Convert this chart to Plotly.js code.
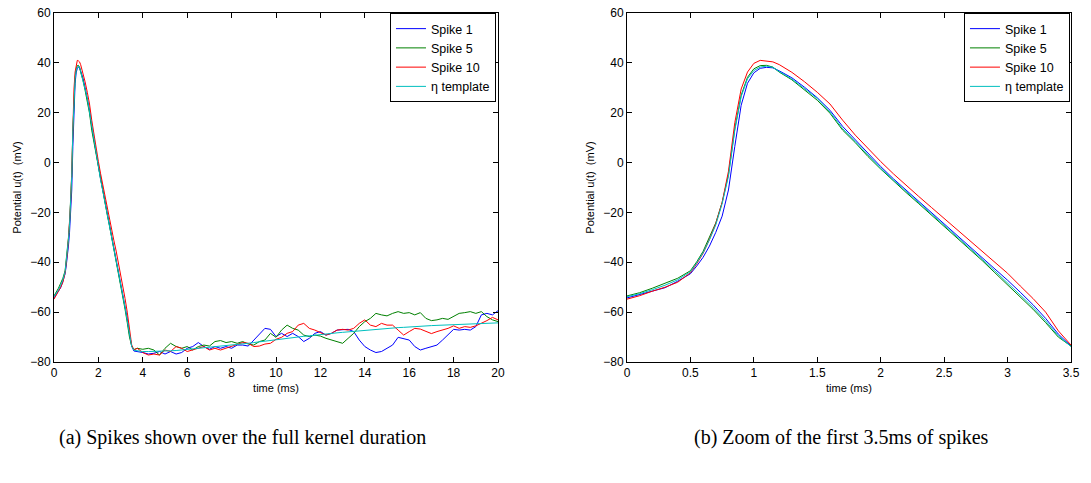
<!DOCTYPE html>
<html>
<head>
<meta charset="utf-8">
<script src="https://cdn.plot.ly/plotly-3.0.1.min.js"></script>
<style>html,body{margin:0;padding:0;background:#fff;}#chart{width:1091px;height:483px;}</style>
</head>
<body>
<div id="chart"></div>
<script>
// time axis (ms)
const t = [0,0.1,0.2,0.3,0.4,0.5,0.55,0.6,0.65,0.7,0.75,0.8,0.85,0.9,0.95,1.0,1.05,1.1,1.15,1.2,
  1.3,1.4,1.5,1.6,1.7,1.8,1.9,2.0,2.1,2.2,2.3,2.4,2.5,2.6,2.7,2.8,2.9,3.0,3.1,3.2,3.3,3.4,3.5,3.6,
  3.75,4.0,4.25,4.5,4.75,5.0,5.25,5.5,5.75,6.0,6.25,6.5,6.75,7.0,7.25,7.5,7.75,8.0,8.25,8.5,8.75,
  9.0,9.25,9.5,9.75,10.0,10.25,10.5,10.75,11.0,11.25,11.5,11.75,12.0,12.25,12.5,12.75,13.0,13.25,
  13.5,13.75,14.0,14.25,14.5,14.75,15.0,15.25,15.5,15.75,16.0,16.25,16.5,16.75,17.0,17.25,17.5,
  17.75,18.0,18.25,18.5,18.75,19.0,19.25,19.5,19.75,20.0];

const spike1 = [-54.3,-53.0,-51.6,-50.2,-47.6,-44.6,-41.5,-38.0,-33.5,-28.0,-21.5,-11.0,6.5,23.0,31.8,36.0,37.8,38.2,38.0,36.8,
  34.0,30.2,26.0,21.0,14.5,9.0,3.8,-1.6,-6.5,-11.0,-15.6,-20.0,-24.6,-29.0,-33.6,-38.0,-42.6,-47.2,-52.0,-57.0,-62.5,-68.8,-73.6,-75.6,
  -75.8,-76.2,-76.8,-76.5,-75.8,-76.8,-75.8,-76.8,-76.2,-74.5,-73.8,-72.2,-73.8,-74.9,-73.8,-74.5,-73.8,-74.5,-73.2,-73.2,-73.6,
  -71.2,-68.5,-66.5,-66.9,-69.8,-68.5,-69.8,-68.5,-69.8,-71.8,-70.5,-68.5,-67.8,-69.2,-68.5,-67.2,-67.2,-66.9,
  -67.8,-71.2,-73.8,-75.2,-76.2,-75.8,-74.5,-73.2,-70.1,-70.5,-71.2,-73.8,-75.2,-74.5,-73.8,-73.2,-71.2,
  -69.2,-66.9,-67.2,-66.9,-67.2,-65.8,-61.1,-60.5,-61.1,-59.4];

const spike5 = [-53.5,-52.2,-50.4,-48.4,-46.4,-43.4,-39.8,-35.6,-30.2,-24.2,-16.0,-4.8,13.5,27.0,34.2,37.6,38.9,39.0,38.3,36.3,
  33.2,29.0,25.0,19.8,13.0,8.0,2.4,-2.6,-7.4,-12.0,-16.5,-21.0,-25.4,-30.0,-34.6,-39.3,-44.2,-49.0,-54.0,-58.8,-64.2,-70.0,-73.6,-75.0,
  -74.5,-74.9,-74.5,-75.2,-77.2,-74.5,-72.5,-73.8,-74.5,-73.8,-75.2,-73.8,-73.2,-73.6,-71.8,-71.4,-72.2,-71.8,-72.5,-71.8,-72.8,
  -73.2,-71.8,-71.2,-68.5,-70.1,-67.2,-65.2,-66.5,-67.2,-69.2,-69.8,-69.2,-69.6,-70.5,-71.2,-71.8,-72.5,-70.5,
  -68.5,-65.8,-63.8,-62.5,-60.5,-61.1,-61.5,-60.5,-59.8,-60.5,-60.2,-61.1,-60.2,-62.5,-63.4,-63.1,-62.5,
  -62.9,-61.8,-60.5,-60.2,-59.8,-60.5,-59.8,-61.8,-63.1,-63.8];

const spike10 = [-54.8,-53.4,-51.6,-50.0,-48.0,-44.2,-40.6,-36.4,-30.8,-24.5,-16.0,-3.5,16.0,29.5,36.3,39.8,41.0,40.8,40.4,39.3,
  36.2,32.4,28.2,23.5,17.0,11.0,5.6,0.4,-4.5,-9.2,-13.6,-18.0,-22.4,-26.8,-31.4,-35.5,-40.0,-44.4,-49.5,-54.5,-60.0,-67.5,-73.2,-75.2,
  -74.5,-76.2,-77.2,-76.8,-77.2,-75.2,-75.8,-73.8,-74.5,-75.8,-75.2,-74.5,-73.8,-75.2,-74.5,-75.2,-74.5,-73.8,-73.2,-72.2,-72.5,
  -73.8,-73.6,-72.8,-72.5,-70.9,-70.1,-68.5,-67.8,-65.2,-64.5,-66.5,-67.2,-68.2,-69.2,-68.5,-67.2,-66.9,-67.2,
  -66.5,-64.5,-63.1,-65.2,-65.8,-64.5,-65.2,-65.2,-67.2,-69.2,-67.8,-66.5,-66.8,-67.6,-68.6,-67.8,-67.2,
  -66.5,-65.5,-66.5,-65.8,-66.1,-65.5,-64.5,-63.4,-62.1,-63.1];

const template = [-53.8,-52.6,-51.0,-49.2,-47.0,-43.8,-40.2,-36.2,-31.0,-25.0,-16.5,-5.5,13.0,26.5,33.6,36.9,38.3,38.7,38.2,36.5,
  33.5,29.5,25.7,20.3,13.6,8.4,3.0,-2.3,-7.0,-11.5,-16.0,-20.5,-25.0,-29.5,-34.2,-38.8,-43.5,-48.4,-53.2,-58.0,-63.5,-69.5,-73.8,-75.3,
  -75.6,-75.8,-75.8,-75.8,-75.7,-75.6,-75.5,-75.4,-75.2,-75.0,-74.8,-74.6,-74.4,-74.2,-74.0,-73.7,-73.5,-73.2,-73.0,-72.7,-72.5,
  -72.2,-71.9,-71.7,-71.4,-71.1,-70.8,-70.5,-70.3,-70.0,-69.7,-69.5,-69.2,-69.0,-68.8,-68.5,-68.3,-68.1,-67.9,
  -67.6,-67.4,-67.2,-67.0,-66.9,-66.7,-66.5,-66.4,-66.2,-66.1,-65.9,-65.8,-65.7,-65.5,-65.4,-65.3,-65.2,
  -65.1,-65.0,-64.9,-64.8,-64.7,-64.6,-64.5,-64.4,-64.4,-64.3];

const seriesNames = ['Spike 1','Spike 5','Spike 10','\u03b7 template'];
const seriesColors = ['#0000ff','#008000','#ff0000','#00bfbf'];
const seriesValues = [spike1, spike5, spike10, template];

const xTicksLeft = [0,2,4,6,8,10,12,14,16,18,20];
const xTicksRight = [0,0.5,1,1.5,2,2.5,3,3.5];
const yTicks = [-80,-60,-40,-20,0,20,40,60];
const captions = ['(a) Spikes shown over the full kernel duration','(b) Zoom of the first 3.5ms of spikes'];

const traces = [];
[['x','y','legend'],['x2','y2','legend2']].forEach(function(ax){
  seriesValues.forEach(function(v,i){
    traces.push({x:t, y:v, type:'scatter', mode:'lines', name:seriesNames[i],
      xaxis:ax[0], yaxis:ax[1], legend:ax[2],
      line:{color:seriesColors[i], width:1}, hoverinfo:'skip'});
  });
});

const baseAxis = {showline:true, linecolor:'#000', linewidth:1, mirror:'ticks', ticks:'inside',
  ticklen:5, tickcolor:'#000', tickwidth:1, showgrid:false, zeroline:false,
  tickfont:{size:12, color:'#000'}};
const xTitle = {text:'time (ms)', font:{size:11, color:'#000'}, standoff:4};
const yTitle = {text:'Potential u(t) \u00a0(mV)', font:{size:11, color:'#000'}, standoff:6};
const legendBase = {y:1, yanchor:'top', xanchor:'right', bgcolor:'#fff', bordercolor:'#000', borderwidth:1,
  font:{size:12.5, color:'#000'}, tracegroupgap:0, itemwidth:30};
const captionFont = {family:'"Liberation Serif", "Times New Roman", serif', size:20, color:'#000'};

const layout = {
  width:1091, height:483,
  margin:{l:54, r:20, t:13, b:121},
  paper_bgcolor:'#fff', plot_bgcolor:'#fff',
  font:{family:'"Liberation Sans", Arial, sans-serif', color:'#000'},
  xaxis:Object.assign({}, baseAxis, {domain:[0,0.4366], range:[0,20], tickvals:xTicksLeft, ticktext:xTicksLeft.map(String), anchor:'y', title:xTitle}),
  yaxis:Object.assign({}, baseAxis, {domain:[0,1], range:[-80,60], tickvals:yTicks, anchor:'x', title:yTitle}),
  xaxis2:Object.assign({}, baseAxis, {domain:[0.5634,1], range:[0,3.5], tickvals:xTicksRight, ticktext:xTicksRight.map(String), anchor:'y2', title:xTitle}),
  yaxis2:Object.assign({}, baseAxis, {domain:[0,1], range:[-80,60], tickvals:yTicks, anchor:'x2', title:yTitle}),
  legend:Object.assign({}, legendBase, {x:0.4346}),
  legend2:Object.assign({}, legendBase, {x:0.999}),
  showlegend:true,
  annotations:[
    {text:captions[0], xref:'paper', yref:'paper', x:0.1858, y:-0.215, xanchor:'center', yanchor:'middle', showarrow:false, font:captionFont},
    {text:captions[1], xref:'paper', yref:'paper', x:0.7748, y:-0.215, xanchor:'center', yanchor:'middle', showarrow:false, font:captionFont}
  ]
};

Plotly.newPlot('chart', traces, layout, {staticPlot:true, displayModeBar:false});
</script>
</body>
</html>
